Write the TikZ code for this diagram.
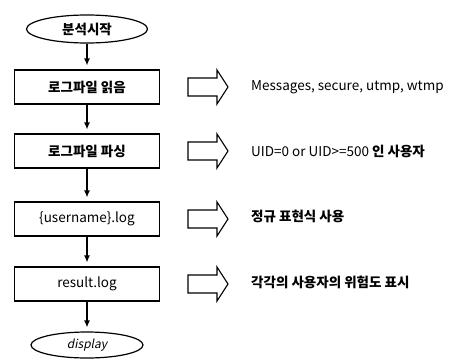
\documentclass[tikz,border=0pt]{standalone}
\usepackage{fontspec}
\setmainfont{Noto Sans CJK KR}
\newfontfamily\dispfont[FakeSlant=0.2]{Noto Sans CJK KR}
\newcommand{\krb}[1]{{\bfseries #1}}
\usetikzlibrary{shapes.geometric,arrows.meta}
\begin{document}
\begin{tikzpicture}[x=1pt,y=-1pt,
  every node/.style={font=\fontsize{13.5}{16}\selectfont},
  term/.style={ellipse,draw,line width=1.2pt,minimum width=121pt,minimum height=28pt,inner sep=0pt},
  procbox/.style={rectangle,draw,line width=1.2pt,minimum width=145pt,minimum height=34pt,inner sep=0pt},
  flow/.style={line width=1.2pt,-{Latex[length=7pt,width=6pt]},shorten >=4pt},
  hollow/.style={draw,line width=1.1pt,line join=miter},
  note/.style={anchor=west,inner sep=0pt}
]
\useasboundingbox (0,0) rectangle (468,362);
\node[term] (start) at (87,29) {\krb{분석시작}};
\node[procbox] (b1) at (87,87) {\krb{로그파일 읽음}};
\node[procbox] (b2) at (87,151) {\krb{로그파일 파싱}};
\node[procbox] (b3) at (87,219) {\{username\}.log};
\node[procbox] (b4) at (87,284) {result.log};
\node[term,minimum width=112pt,minimum height=26pt,font=\fontsize{12}{14}\selectfont\dispfont] (end) at (87,345) {display};
\draw[flow] (start) -- (b1);
\draw[flow] (b1) -- (b2);
\draw[flow] (b2) -- (b3);
\draw[flow] (b3) -- (b4);
\draw[flow] (b4) -- (end);
\foreach \yy/\nm in {87/a1,151/a2,219/a3,284/a4}{
  \draw[hollow] (188,\yy-9) -- (217,\yy-9) -- (217,\yy-17) -- (228,\yy) -- (217,\yy+17) -- (217,\yy+9) -- (188,\yy+9) -- cycle;
  \coordinate (\nm) at (228,\yy);
}
\node[note] (t1) at (251,87) {Messages, secure, utmp, wtmp};
\node[note] (t2) at (251,151) {UID=0 or UID>=500 \krb{인 사용자}};
\node[note] (t3) at (251,216) {\krb{정규 표현식 사용}};
\node[note] (t4) at (251,282) {\krb{각각의 사용자의 위험도 표시}};
\end{tikzpicture}
\end{document}
